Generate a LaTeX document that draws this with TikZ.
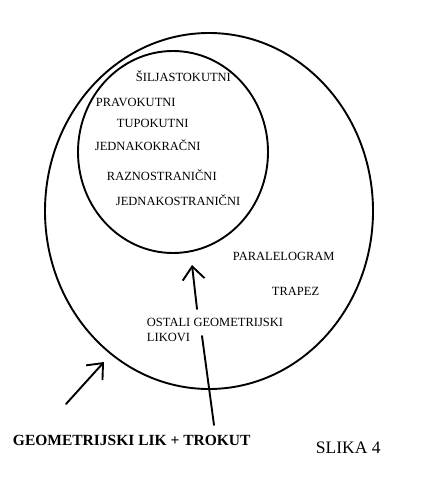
\documentclass[tikz,border=0pt]{standalone}
\usepackage{fontspec}
\setmainfont{Liberation Serif}
\usetikzlibrary{arrows.meta}
\begin{document}
\begin{tikzpicture}[x=1pt, y=-1pt, line join=round, line cap=round, line width=1.9pt,
	>={Straight Barb[length=13pt, width=22pt]},
	oznaka/.style={anchor=base west, inner sep=0pt, font=\fontsize{12.5}{15}\selectfont}]
	\useasboundingbox (0,0) rectangle (421,478);
	\path (209,211) coordinate (O)
	(173,152) coordinate (T)
	(66,404) coordinate (A) (104,362) coordinate (B)
	(214,425) coordinate (C) (202,336) coordinate (D)
	(197,309) coordinate (E) (192,265) coordinate (F);
	\draw (O) ellipse[x radius=164, y radius=178];
	\draw (T) ellipse[x radius=95, y radius=101];
	\foreach \ime/\x/\y/\tekst in {siljasti/135/82/ŠILJASTOKUTNI, pravi/95/107/PRAVOKUTNI,
		tupi/116/128/TUPOKUTNI, jkracni/94/151/JEDNAKOKRAČNI, raznos/106/180/RAZNOSTRANIČNI,
		jstranicni/115/205/JEDNAKOSTRANIČNI, paral/232/260/PARALELOGRAM, trapez/271/295/TRAPEZ,
		ostali/146/326/OSTALI GEOMETRIJSKI, likovi/146/341/LIKOVI}
		\node[oznaka] (\ime) at (\x,\y) {\tekst};
	\node[oznaka, font=\fontsize{15.5}{18}\selectfont\bfseries] (lik) at (12,445) {GEOMETRIJSKI LIK + TROKUT};
	\node[oznaka, font=\fontsize{17.5}{20}\selectfont] (slika) at (315,453) {SLIKA 4};
	\draw[->] (A)--(B);
	\draw (C)--(D);
	\draw[->] (E)--(F);
\end{tikzpicture}
\end{document}
